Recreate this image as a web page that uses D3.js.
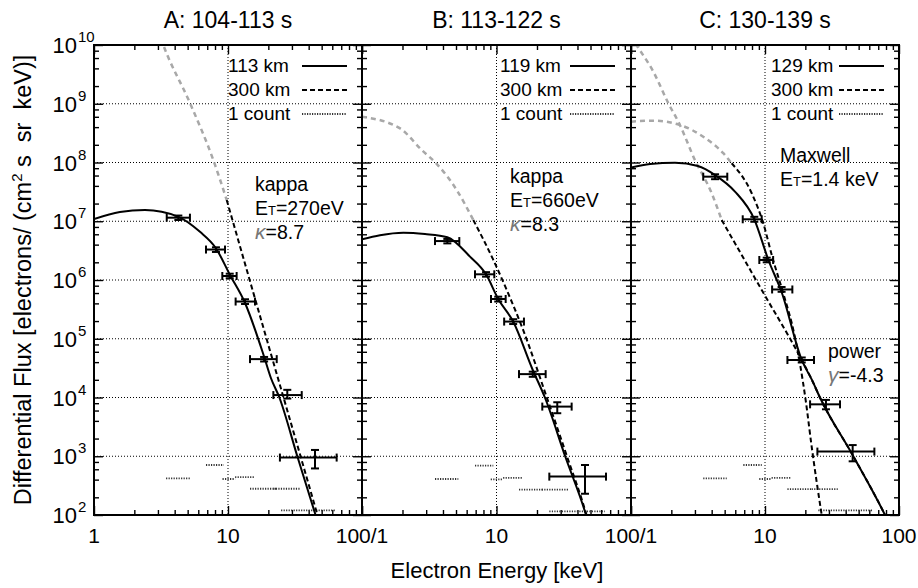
<!DOCTYPE html>
<head>
<meta charset="utf-8">
<script src="https://d3js.org/d3.v7.min.js"></script>
<style>
  body { margin: 0; background: #fff; }
  text { font-family: 'Liberation Sans', Arial, sans-serif; fill: #000; }
  .frame { fill: none; stroke: #000; stroke-width: 2; }
  .grid line { stroke: #000; stroke-width: 1; stroke-dasharray: 1,2; }
  .ticks .tick line { stroke: #000; stroke-width: 1.4; }
  .ticks .domain { display: none; }
  .fit { fill: none; stroke: #000; stroke-width: 2; }
  .model { fill: none; stroke: #000; stroke-width: 2; stroke-dasharray: 5,3; }
  .model-lo { fill: none; stroke: #a8a8a8; stroke-width: 2.5; stroke-dasharray: 5,4; }
  .count { stroke: #333; stroke-width: 1.8; stroke-dasharray: 1.2,1.3; }
  .err { stroke: #000; stroke-width: 2; }
</style>
</head>
<body>
<script>

var titles = ["A: 104-113 s", "B: 113-122 s", "C: 130-139 s"];
var fitNames = ["113 km", "119 km", "129 km"];
var modelName = "300 km";
var countName = "1 count";
var xTickValues = [1, 10, 100];
var xTickLabels = [["1", "10", ""], ["100/1", "10", ""], ["100/1", "10", "100"]];
var yDecades = [2, 3, 4, 5, 6, 7, 8, 9, 10];

// measured points: [E, Elo, Ehi, F, Flo, Fhi]
var pointsA = [
  [4.26, 3.49, 5.2, 1.15e7, 1.05e7, 1.25e7],
  [8.13, 6.85, 9.5, 3.3e6, 3.0e6, 3.6e6],
  [10.3, 9.07, 11.6, 1.17e6, 1.07e6, 1.28e6],
  [13.4, 11.4, 15.9, 4.3e5, 3.9e5, 4.7e5],
  [18.6, 14.6, 23.1, 4.5e4, 4.1e4, 4.9e4],
  [27.7, 21.8, 35.5, 1.1e4, 9.6e3, 1.35e4],
  [44.6, 24.4, 64.7, 9.5e2, 6.2e2, 1.28e3]
];
var pointsB = [
  [4.31, 3.49, 5.29, 4.6e6, 4.2e6, 5.0e6],
  [8.36, 6.92, 9.63, 1.25e6, 1.14e6, 1.36e6],
  [10.3, 9.1, 11.7, 4.75e5, 4.3e5, 5.2e5],
  [13.3, 11.4, 16.0, 1.96e5, 1.78e5, 2.15e5],
  [18.6, 14.7, 23.2, 2.5e4, 2.25e4, 2.75e4],
  [28.3, 21.9, 36.2, 7.0e3, 5.4e3, 8.3e3],
  [45.5, 24.7, 65.2, 4.5e2, 2.3e2, 7.1e2]
];
var pointsC = [
  [4.24, 3.46, 5.23, 5.74e7, 5.2e7, 6.3e7],
  [8.32, 6.82, 9.45, 1.08e7, 9.8e6, 1.19e7],
  [10.3, 9.07, 11.5, 2.19e6, 2.0e6, 2.4e6],
  [13.3, 11.3, 16.0, 6.9e5, 6.3e5, 7.6e5],
  [18.8, 14.7, 23.2, 4.35e4, 3.95e4, 4.8e4],
  [28.5, 21.7, 36.3, 7.65e3, 6.3e3, 9.1e3],
  [45.1, 24.6, 65.5, 1.2e3, 8.2e2, 1.55e3]
];

// one-count level per energy bin: [Elo, Ehi, F]
var countA = [[3.45, 5.2, 4.2e2], [6.85, 9.3, 7.1e2], [9.1, 11.3, 4.1e2], [11.3, 15.6, 4.4e2],
              [14.6, 23.1, 2.8e2], [21.8, 34.3, 2.8e2], [24.9, 63, 1.2e2]];
var countB = [[3.49, 5.2, 4.1e2], [6.92, 9.47, 6.9e2], [9.06, 11.2, 4.05e2], [11.2, 15.7, 4.3e2],
              [14.7, 22.3, 2.7e2], [21.7, 34.6, 2.7e2], [24.7, 64.1, 1.15e2]];
var countC = [[3.46, 5.18, 4.2e2], [6.89, 9.45, 7.1e2], [9.06, 11.2, 4.1e2], [11.2, 15.6, 4.3e2],
              [14.7, 22.3, 2.75e2], [22.3, 34.9, 2.75e2], [25.0, 63.2, 1.2e2]];

// fit at the rocket altitude: [E, F]
var fitA = [[1, 1.09e7], [1.56, 1.44e7], [2.4, 1.55e7], [4.26, 1.19e7], [6.18, 6.6e6], [8.13, 3.47e6],
            [10.34, 1.22e6], [13.4, 4.06e5], [18.6, 4.94e4], [20.9, 2.15e4], [24.1, 1.02e4],
            [32.9, 1e3], [44.6, 1.07e2], [48.6, 56]];
var fitB = [[1, 4.93e6], [1.36, 5.8e6], [2.03, 6.4e6], [2.94, 6.07e6], [4.31, 5.33e6], [6.35, 2.5e6],
            [8.36, 1.25e6], [10.3, 4.75e5], [13.3, 1.96e5], [18.6, 2.94e4], [22.9, 1e4],
            [32.4, 1e3], [46.3, 1e2], [50.4, 51]];
var fitC = [[1, 8.18e7], [1.39, 9.4e7], [2.13, 9.9e7], [3.16, 8.7e7], [4.24, 6.1e7], [5.97, 3.2e7],
            [8.32, 1.08e7], [10.6, 2.19e6], [13.3, 6.25e5], [18.8, 4.35e4], [22.4, 1.99e4],
            [25.7, 1e4], [45.6, 1e3], [78.6, 1e2], [88.7, 56]];

// 300 km model, grey part and black part
var modelLoA = [[3.0, 1.8e10], [3.29, 1e10], [5.21, 1.02e9], [7.77, 1.1e8], [9.78, 2.3e7]];
var modelA = [[9.78, 2.3e7], [19.4, 1e5], [46.5, 1e2], [52, 41]];
var modelLoB = [[1, 6.0e8], [1.92, 3.8e8], [2.78, 1.63e8], [3.59, 9.5e7], [5.06, 3.4e7], [6.72, 1.05e7]];
var modelB = [[6.72, 1.05e7], [9.47, 2.2e6], [11.9, 6.8e5], [15.8, 1.4e5], [23.6, 1.02e4],
              [33.4, 1e3], [46.7, 1e2], [51.3, 46]];
var modelLoC = [[1, 4.96e8], [1.47, 5.15e8], [2.32, 4.35e8], [3.46, 2.75e8], [4.88, 1.44e8], [5.64, 9.7e7]];
var modelC = [[5.64, 9.7e7], [7.96, 3.0e7], [9.71, 9.2e6], [11.5, 2.19e6], [13.7, 5.9e5],
              [16.7, 1.08e5], [20.1, 9.1e3], [22.3, 1.46e3], [26.5, 1e2], [27.6, 56]];
var powerLoC = [[1, 1.43e10], [1.1, 1e10], [1.47, 3.5e9], [1.9, 1.02e9], [2.29, 4.6e8],
                [3.0, 1.1e8], [4.0, 3.0e7], [4.75, 1.05e7]];
var powerC = [[4.75, 1.05e7], [9.45, 6.76e5], [18.8, 4.35e4], [22.4, 1.99e4], [25.7, 1e4],
              [45.6, 1e3], [78.6, 1e2], [88.7, 56]];

var notesA = [["kappa"], ["E", "T", "=270eV"], ["\u03ba", "=8.7"]];
var notesB = [["kappa"], ["E", "T", "=660eV"], ["\u03ba", "=8.3"]];
var notesC = [["Maxwell"], ["E", "T", "=1.4 keV"]];
var notesC2 = [["power"], ["\u03b3", "=-4.3"]];

var W = 918, H = 588;
var plotTop = 45, plotBottom = 515;

var panels = [
  {left: 94, right: 362, points: pointsA, count: countA, fit: fitA,
   models: [[modelLoA, modelA]], notes: [[notesA, 255, 191]], legendX: 228},
  {left: 362, right: 631, points: pointsB, count: countB, fit: fitB,
   models: [[modelLoB, modelB]], notes: [[notesB, 510, 183]], legendX: 500},
  {left: 631, right: 899, points: pointsC, count: countC, fit: fitC,
   models: [[powerLoC, powerC], [modelLoC, modelC]], notes: [[notesC, 780, 162], [notesC2, 828, 358]], legendX: 771}
];

var svg = d3.select("body").append("svg")
    .attr("width", W)
    .attr("height", H);

var y = d3.scaleLog().domain([1e2, 1e10]).range([plotBottom, plotTop]);

var xMinor = [];
[1, 10].forEach(function(d) { for (var k = 2; k < 10; k++) xMinor.push(k * d); });
var yMinor = [];
yDecades.slice(0, -1).forEach(function(e) { [2, 4, 6, 8].forEach(function(k) { yMinor.push(k * Math.pow(10, e)); }); });
var yMajor = yDecades.map(function(e) { return Math.pow(10, e); });

panels.forEach(function(p, i) {
  var x = d3.scaleLog().domain([1, 100]).range([p.left, p.right]);
  var g = svg.append("g");

  var clipId = "clip" + i;
  svg.append("clipPath").attr("id", clipId)
    .append("rect")
      .attr("x", p.left).attr("y", plotTop)
      .attr("width", p.right - p.left).attr("height", plotBottom - plotTop);

  // grid
  var grid = g.append("g").attr("class", "grid");
  grid.selectAll(".gy")
      .data(yMajor.slice(1, -1))
    .enter().append("line")
      .attr("x1", p.left).attr("x2", p.right)
      .attr("y1", function(d) { return y(d); })
      .attr("y2", function(d) { return y(d); });
  grid.append("line")
      .attr("x1", x(10)).attr("x2", x(10))
      .attr("y1", plotTop).attr("y2", plotBottom);

  // ticks on all four sides, pointing inward
  function ticks(axis, tx, ty, vals, len) {
    g.append("g").attr("class", "ticks")
        .attr("transform", "translate(" + tx + "," + ty + ")")
        .call(axis.tickValues(vals).tickSize(-len).tickFormat(""));
  }
  ticks(d3.axisBottom(x), 0, plotBottom, xTickValues, 9);
  ticks(d3.axisBottom(x), 0, plotBottom, xMinor, 5);
  ticks(d3.axisTop(x), 0, plotTop, xTickValues, 9);
  ticks(d3.axisTop(x), 0, plotTop, xMinor, 5);
  ticks(d3.axisLeft(y), p.left, 0, yMajor, 9);
  ticks(d3.axisLeft(y), p.left, 0, yMinor, 5);
  ticks(d3.axisRight(y), p.right, 0, yMajor, 9);
  ticks(d3.axisRight(y), p.right, 0, yMinor, 5);

  var plot = g.append("g").attr("clip-path", "url(#" + clipId + ")");

  var line = d3.line()
      .x(function(d) { return x(d[0]); })
      .y(function(d) { return y(d[1]); })
      .curve(d3.curveMonotoneX);

  // one-count levels
  plot.selectAll(".count")
      .data(p.count)
    .enter().append("line")
      .attr("class", "count")
      .attr("x1", function(d) { return x(d[0]); })
      .attr("x2", function(d) { return x(d[1]); })
      .attr("y1", function(d) { return y(d[2]); })
      .attr("y2", function(d) { return y(d[2]); });

  p.models.forEach(function(m) {
    plot.append("path").attr("class", "model-lo").attr("d", line(m[0]));
    plot.append("path").attr("class", "model").attr("d", line(m[1]));
  });

  plot.append("path").attr("class", "fit").attr("d", line(p.fit));

  // error bars
  var cap = 4;
  var eb = plot.selectAll(".pt")
      .data(p.points)
    .enter().append("g");
  eb.append("line").attr("class", "err")
      .attr("x1", function(d) { return x(d[1]); })
      .attr("x2", function(d) { return x(d[2]); })
      .attr("y1", function(d) { return y(d[3]); })
      .attr("y2", function(d) { return y(d[3]); });
  eb.append("line").attr("class", "err")
      .attr("x1", function(d) { return x(d[0]); })
      .attr("x2", function(d) { return x(d[0]); })
      .attr("y1", function(d) { return y(d[4]); })
      .attr("y2", function(d) { return y(d[5]); });
  [1, 2].forEach(function(k) {
    eb.append("line").attr("class", "err")
        .attr("x1", function(d) { return x(d[k]); })
        .attr("x2", function(d) { return x(d[k]); })
        .attr("y1", function(d) { return y(d[3]) - cap; })
        .attr("y2", function(d) { return y(d[3]) + cap; });
  });
  [4, 5].forEach(function(k) {
    eb.append("line").attr("class", "err")
        .attr("x1", function(d) { return x(d[0]) - cap; })
        .attr("x2", function(d) { return x(d[0]) + cap; })
        .attr("y1", function(d) { return y(d[k]); })
        .attr("y2", function(d) { return y(d[k]); });
  });

  // frame
  g.append("rect").attr("class", "frame")
      .attr("x", p.left).attr("y", plotTop)
      .attr("width", p.right - p.left).attr("height", plotBottom - plotTop);

  // x tick labels
  g.selectAll(".xl")
      .data(xTickValues)
    .enter().append("text")
      .attr("x", function(d) { return x(d); })
      .attr("y", 543)
      .attr("text-anchor", "middle")
      .style("font-size", "21px")
      .text(function(d, j) { return xTickLabels[i][j]; });

  // title
  g.append("text")
      .attr("x", x(10)).attr("y", 28)
      .attr("text-anchor", "middle")
      .style("font-size", "23px")
      .text(titles[i]);

  // legend
  var lx1 = p.left + 208, lx2 = p.left + 253;
  var legend = [[fitNames[i], "fit", 72], [modelName, "model", 96], [countName, "count", 120]];
  legend.forEach(function(l) {
    g.append("text").attr("x", p.legendX).attr("y", l[2])
        .style("font-size", "19px").text(l[0]);
    g.append("line").attr("class", l[1])
        .attr("x1", lx1).attr("x2", lx2)
        .attr("y1", l[2] - 6).attr("y2", l[2] - 6);
  });

  // annotations
  p.notes.forEach(function(n) {
    n[0].forEach(function(parts, j) {
      var t = g.append("text").attr("x", n[1]).attr("y", n[2] + j * 24)
          .style("font-size", "19.5px");
      if (parts.length === 3) {
        t.append("tspan").text(parts[0]);
        t.append("tspan").style("font-size", "13px").text(parts[1]);
        t.append("tspan").text(parts[2]);
      } else if (parts.length === 2) {
        t.append("tspan").style("fill", "#777").style("font-style", "italic").style("font-size", "21px").text(parts[0]);
        t.append("tspan").text(parts[1]);
      } else {
        t.text(parts[0]);
      }
    });
  });
});

// y tick labels
var yl = svg.append("g").selectAll("g")
    .data(yDecades)
  .enter().append("g");
yl.append("text")
    .attr("x", 77)
    .attr("y", function(d) { return y(Math.pow(10, d)) + 8; })
    .attr("text-anchor", "end")
    .style("font-size", "22px")
    .text("10");
yl.append("text")
    .attr("x", 78)
    .attr("y", function(d) { return y(Math.pow(10, d)) - 3; })
    .style("font-size", "15px")
    .text(function(d) { return d; });

// axis titles
svg.append("text")
    .attr("x", 497).attr("y", 578)
    .attr("text-anchor", "middle")
    .style("font-size", "22px")
    .text("Electron Energy [keV]");

var yt = svg.append("text")
    .attr("transform", "translate(31,280) rotate(-90)")
    .attr("text-anchor", "middle")
    .style("font-size", "23.5px")
    .style("white-space", "pre");
yt.append("tspan").text("Differential Flux [electrons/ (cm");
yt.append("tspan").attr("dy", -9).style("font-size", "15px").text("2");
yt.append("tspan").attr("dy", 9).text(" s  sr  keV)]");

</script>
</body>
